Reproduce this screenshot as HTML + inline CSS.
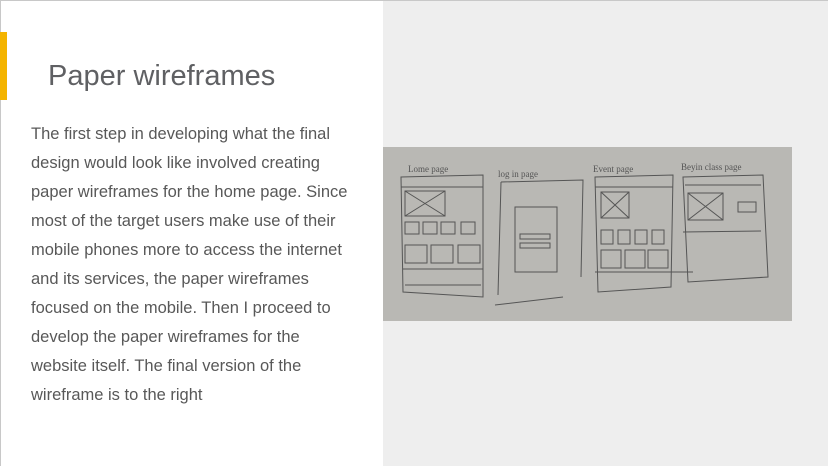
<!DOCTYPE html>
<html><head><style>
body{margin:0;width:828px;height:466px;overflow:hidden;background:#eeeeee;font-family:"Liberation Sans",sans-serif;position:relative}
.frame{position:absolute;left:0;top:0;width:827px;height:465px;border-top:1px solid #c8c8c8;border-left:1px solid #c8c8c8}
.left{position:absolute;left:1px;top:1px;width:382px;height:465px;background:#fff}
.bar{position:absolute;left:0;top:32px;width:7px;height:68px;background:#f4b400}
h1{position:absolute;left:48px;top:59px;margin:0;font-weight:normal;font-size:29px;color:#5f6063;line-height:34px;white-space:nowrap}
p{position:absolute;left:31px;top:120px;margin:0;font-size:16.5px;line-height:29px;color:#585858;white-space:nowrap}
.photo{position:absolute;left:383px;top:147px;width:409px;height:174px;background:#b9b8b4}
</style></head><body>
<div class="frame"></div>
<div class="left"></div>
<div class="bar"></div>
<h1>Paper wireframes</h1>
<p>The first step in developing what the final<br>design would look like involved creating<br>paper wireframes for the home page. Since<br>most of the target users make use of their<br>mobile phones more to access the internet<br>and its services, the paper wireframes<br>focused on the mobile. Then I proceed to<br>develop the paper wireframes for the<br>website itself. The final version of the<br>wireframe is to the right</p>
<div class="photo">
<svg width="409" height="174" viewBox="0 0 409 174" fill="none" stroke="#555" stroke-width="1">
<text x="25" y="25" font-size="9" fill="#555" stroke="none" font-family="Liberation Serif">Lome page</text>
<text x="115" y="30" font-size="9" fill="#555" stroke="none" font-family="Liberation Serif">log in page</text>
<text x="210" y="25" font-size="9" fill="#555" stroke="none" font-family="Liberation Serif">Event page</text>
<text x="298" y="23" font-size="9" fill="#555" stroke="none" font-family="Liberation Serif">Beyin class page</text>
<path d="M18 30 L100 28 L100 150 L20 145 Z M18 40 H100 M22 44 h40 v25 h-40 z M22 44 l40 25 M62 44 l-40 25 M22 75 h14 v12 h-14z M40 75 h14 v12 h-14z M58 75 h14 v12 h-14z M78 75 h14 v12 h-14z M22 98 h22 v18 h-22z M48 98 h22 v18 h-22z M75 98 h22 v18 h-22z M20 122 H100 M22 138 H98"/>
<path d="M118 35 L200 33 L198 130 M118 35 L115 148 M132 60 h42 v65 h-42z M137 87 h30 v5 h-30z M137 96 h30 v5 h-30z M112 158 L180 150"/>
<path d="M212 30 L290 28 L288 140 L215 145 Z M212 40 H290 M218 45 h28 v26 h-28z M218 45 l28 26 M246 45 l-28 26 M218 83 h12 v14 h-12z M235 83 h12 v14 h-12z M252 83 h12 v14 h-12z M269 83 h12 v14 h-12z M218 103 h20 v18 h-20z M242 103 h20 v18 h-20z M265 103 h20 v18 h-20z M212 125 H310"/>
<path d="M300 30 L380 28 L385 130 L305 135 Z M302 38 H378 M305 46 h35 v27 h-35z M305 46 l35 27 M340 46 l-35 27 M300 85 L378 84 M355 55 h18 v10 h-18z"/>
</svg>
</div>
</body></html>
